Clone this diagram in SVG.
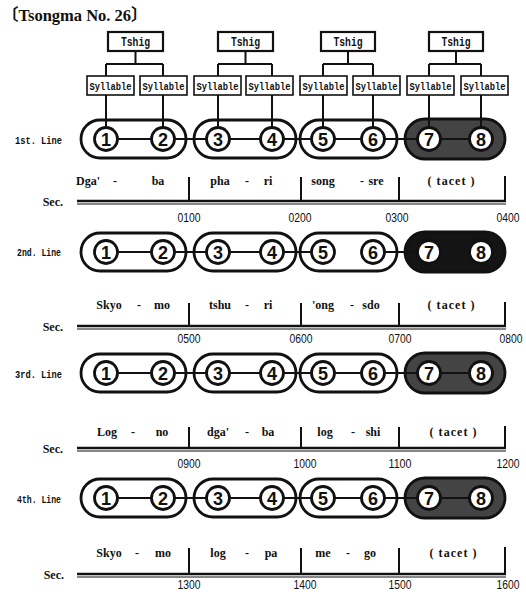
<svg xmlns="http://www.w3.org/2000/svg" width="526" height="592" viewBox="0 0 526 592">
<style>
.bg{fill:#fff}
.tshig{fill:#fff;stroke:#111;stroke-width:2.2}
.syl{fill:#fff;stroke:#111;stroke-width:1.6}
.st{fill:#fff;stroke:#111;stroke-width:2.8}
.dk{fill:#444;stroke:#111;stroke-width:2.8}
.blk{fill:#141414;stroke:#111;stroke-width:2.8}
.c{fill:#fff;stroke:#111;stroke-width:2.8}
.n{font-family:"Liberation Sans",sans-serif;font-weight:bold;font-size:18px;text-anchor:middle;fill:#111}
.mono{font-family:"Liberation Mono",monospace;font-weight:bold;fill:#111}
.tb{font-size:12px;text-anchor:middle}
.sb{font-size:11.5px;text-anchor:middle}
.ln{font-size:11px}
.w{font-family:"Liberation Serif",serif;font-weight:bold;font-size:12px;text-anchor:middle;fill:#111}
.sec{font-family:"Liberation Serif",serif;font-weight:bold;font-size:12px;text-anchor:end;fill:#111}
.lab{font-family:"Liberation Sans",sans-serif;font-size:12px;text-anchor:middle;fill:#111}
.ed{fill:none;stroke:#111;stroke-width:2}
.tl{fill:none;stroke:#111;stroke-width:2.6}
.tl2{fill:none;stroke:#111;stroke-width:1.2}
.tk{fill:none;stroke:#111;stroke-width:2}
</style>
<rect class="bg" x="0" y="0" width="526" height="592"/>
<text x="2" y="21" font-family="Liberation Serif, 'Noto Sans CJK JP', serif" font-weight="bold" font-size="16.5" fill="#111">〔Tsongma No. 26〕</text>

<!-- Tshig nodes -->
<g id="tshig1"><rect class="tshig" x="108" y="32" width="55" height="19"/><text class="mono tb" x="135.5" y="46" textLength="29" lengthAdjust="spacingAndGlyphs">Tshig</text></g>
<g id="tshig2"><rect class="tshig" x="218" y="32" width="55" height="19"/><text class="mono tb" x="245.5" y="46" textLength="29" lengthAdjust="spacingAndGlyphs">Tshig</text></g>
<g id="tshig3"><rect class="tshig" x="321" y="32" width="54" height="19"/><text class="mono tb" x="348" y="46" textLength="29" lengthAdjust="spacingAndGlyphs">Tshig</text></g>
<g id="tshig4"><rect class="tshig" x="429" y="32" width="54" height="19"/><text class="mono tb" x="456" y="46" textLength="29" lengthAdjust="spacingAndGlyphs">Tshig</text></g>

<!-- Syllable nodes -->
<g id="syl1"><rect class="syl" x="87" y="76" width="47" height="19"/><text class="mono sb" x="110.5" y="89.5" textLength="42" lengthAdjust="spacingAndGlyphs">Syllable</text></g>
<g id="syl2"><rect class="syl" x="140" y="76" width="47" height="19"/><text class="mono sb" x="163.5" y="89.5" textLength="42" lengthAdjust="spacingAndGlyphs">Syllable</text></g>
<g id="syl3"><rect class="syl" x="194" y="76" width="47" height="19"/><text class="mono sb" x="217.5" y="89.5" textLength="42" lengthAdjust="spacingAndGlyphs">Syllable</text></g>
<g id="syl4"><rect class="syl" x="246" y="76" width="47" height="19"/><text class="mono sb" x="269.5" y="89.5" textLength="42" lengthAdjust="spacingAndGlyphs">Syllable</text></g>
<g id="syl5"><rect class="syl" x="300" y="76" width="47" height="19"/><text class="mono sb" x="323.5" y="89.5" textLength="42" lengthAdjust="spacingAndGlyphs">Syllable</text></g>
<g id="syl6"><rect class="syl" x="353" y="76" width="47" height="19"/><text class="mono sb" x="376.5" y="89.5" textLength="42" lengthAdjust="spacingAndGlyphs">Syllable</text></g>
<g id="syl7"><rect class="syl" x="407" y="76" width="47" height="19"/><text class="mono sb" x="430.5" y="89.5" textLength="42" lengthAdjust="spacingAndGlyphs">Syllable</text></g>
<g id="syl8"><rect class="syl" x="461" y="76" width="47" height="19"/><text class="mono sb" x="484.5" y="89.5" textLength="42" lengthAdjust="spacingAndGlyphs">Syllable</text></g>

<!-- Line labels -->
<text class="mono ln" x="15" y="143.5" textLength="47" lengthAdjust="spacingAndGlyphs">1st. Line</text>
<text class="mono ln" x="17" y="255.5" textLength="44" lengthAdjust="spacingAndGlyphs">2nd. Line</text>
<text class="mono ln" x="15" y="377.5" textLength="47" lengthAdjust="spacingAndGlyphs">3rd. Line</text>
<text class="mono ln" x="17" y="502.5" textLength="44" lengthAdjust="spacingAndGlyphs">4th. Line</text>

<!-- Line 1 -->
<g id="l1-pair1"><rect class="st" x="81" y="120" width="105" height="38" rx="19"/><circle class="c" cx="106" cy="139" r="11.5"/><text class="n" x="106" y="145.5">1</text><circle class="c" cx="163" cy="139" r="11.5"/><text class="n" x="163" y="145.5">2</text></g>
<g id="l1-pair2"><rect class="st" x="194" y="120" width="102" height="38" rx="19"/><circle class="c" cx="218" cy="139" r="11.5"/><text class="n" x="218" y="145.5">3</text><circle class="c" cx="272" cy="139" r="11.5"/><text class="n" x="272" y="145.5">4</text></g>
<g id="l1-pair3"><rect class="st" x="300" y="120" width="97" height="38" rx="19"/><circle class="c" cx="323" cy="139" r="11.5"/><text class="n" x="323" y="145.5">5</text><circle class="c" cx="373" cy="139" r="11.5"/><text class="n" x="373" y="145.5">6</text></g>
<g id="l1-pair4"><rect class="dk" x="405" y="119" width="100" height="40" rx="20"/><circle class="c" cx="429" cy="139" r="11.5"/><text class="n" x="429" y="145.5">7</text><circle class="c" cx="481" cy="139" r="11.5"/><text class="n" x="481" y="145.5">8</text></g>

<!-- Line 2 -->
<g id="l2-pair1"><rect class="st" x="81" y="233" width="105" height="38" rx="19"/><circle class="c" cx="106" cy="252" r="11.5"/><text class="n" x="106" y="258.5">1</text><circle class="c" cx="163" cy="252" r="11.5"/><text class="n" x="163" y="258.5">2</text></g>
<g id="l2-pair2"><rect class="st" x="194" y="233" width="102" height="38" rx="19"/><circle class="c" cx="218" cy="252" r="11.5"/><text class="n" x="218" y="258.5">3</text><circle class="c" cx="272" cy="252" r="11.5"/><text class="n" x="272" y="258.5">4</text></g>
<g id="l2-pair3"><rect class="st" x="300" y="233" width="97" height="38" rx="19"/><circle class="c" cx="323" cy="252" r="11.5"/><text class="n" x="323" y="258.5">5</text><circle class="c" cx="373" cy="252" r="11.5"/><text class="n" x="373" y="258.5">6</text></g>
<g id="l2-pair4"><rect class="blk" x="405" y="232" width="100" height="40" rx="20"/><circle class="c" cx="429" cy="252" r="11.5"/><text class="n" x="429" y="258.5">7</text><circle class="c" cx="481" cy="252" r="11.5"/><text class="n" x="481" y="258.5">8</text></g>

<!-- Line 3 -->
<g id="l3-pair1"><rect class="st" x="81" y="354" width="105" height="38" rx="19"/><circle class="c" cx="106" cy="373" r="11.5"/><text class="n" x="106" y="379.5">1</text><circle class="c" cx="163" cy="373" r="11.5"/><text class="n" x="163" y="379.5">2</text></g>
<g id="l3-pair2"><rect class="st" x="194" y="354" width="102" height="38" rx="19"/><circle class="c" cx="218" cy="373" r="11.5"/><text class="n" x="218" y="379.5">3</text><circle class="c" cx="272" cy="373" r="11.5"/><text class="n" x="272" y="379.5">4</text></g>
<g id="l3-pair3"><rect class="st" x="300" y="354" width="97" height="38" rx="19"/><circle class="c" cx="323" cy="373" r="11.5"/><text class="n" x="323" y="379.5">5</text><circle class="c" cx="373" cy="373" r="11.5"/><text class="n" x="373" y="379.5">6</text></g>
<g id="l3-pair4"><rect class="dk" x="405" y="353" width="100" height="40" rx="20"/><circle class="c" cx="429" cy="373" r="11.5"/><text class="n" x="429" y="379.5">7</text><circle class="c" cx="481" cy="373" r="11.5"/><text class="n" x="481" y="379.5">8</text></g>

<!-- Line 4 -->
<g id="l4-pair1"><rect class="st" x="81" y="479" width="105" height="38" rx="19"/><circle class="c" cx="106" cy="498" r="11.5"/><text class="n" x="106" y="504.5">1</text><circle class="c" cx="163" cy="498" r="11.5"/><text class="n" x="163" y="504.5">2</text></g>
<g id="l4-pair2"><rect class="st" x="194" y="479" width="102" height="38" rx="19"/><circle class="c" cx="218" cy="498" r="11.5"/><text class="n" x="218" y="504.5">3</text><circle class="c" cx="272" cy="498" r="11.5"/><text class="n" x="272" y="504.5">4</text></g>
<g id="l4-pair3"><rect class="st" x="300" y="479" width="97" height="38" rx="19"/><circle class="c" cx="323" cy="498" r="11.5"/><text class="n" x="323" y="504.5">5</text><circle class="c" cx="373" cy="498" r="11.5"/><text class="n" x="373" y="504.5">6</text></g>
<g id="l4-pair4"><rect class="dk" x="405" y="478" width="100" height="40" rx="20"/><circle class="c" cx="429" cy="498" r="11.5"/><text class="n" x="429" y="504.5">7</text><circle class="c" cx="481" cy="498" r="11.5"/><text class="n" x="481" y="504.5">8</text></g>

<!-- Connectors -->
<g id="connectors" class="ed">
<path d="M135.5 51V64M106 64H163M106 64V76M163 64V76"/>
<path d="M245.5 51V64M218 64H272M218 64V76M272 64V76"/>
<path d="M348 51V64M323 64H373M323 64V76M373 64V76"/>
<path d="M456 51V64M429 64H481M429 64V76M481 64V76"/>
<path d="M106 95V127.5M163 95V127.5M218 95V127.5M272 95V127.5M323 95V127.5M373 95V127.5M429 95V127.5M481 95V127.5"/>
<path d="M118 139H151M175 139H206M230 139H260M284 139H311M335 139H361M385 139H417M441 139H469"/>
<path d="M118 252H151M175 252H206M230 252H260M284 252H311M385 252H417"/>
<path d="M118 373H151M175 373H206M230 373H260M284 373H311M335 373H361M385 373H417M441 373H469"/>
<path d="M118 498H151M175 498H206M230 498H260M284 498H311M335 498H361M385 498H417M441 498H469"/>
</g>

<!-- Timelines -->
<g id="timeline1">
<path class="tl" d="M77 201H506"/><path class="tl2" d="M77 204H506"/>
<path class="tk" d="M189 177V201M301 177V201M399 177V201M505 176V201"/>
<text class="sec" x="63" y="205.5">Sec.</text>
<text class="w" x="88" y="185">Dga'</text><text class="w" x="115" y="185">-</text><text class="w" x="158" y="185">ba</text>
<text class="w" x="220" y="185">pha</text><text class="w" x="247" y="185">-</text><text class="w" x="268" y="185">ri</text>
<text class="w" x="323" y="185">song</text><text class="w" x="362" y="185">-</text><text class="w" x="376" y="185">sre</text>
<text class="w" x="451" y="185" textLength="47">( tacet )</text>
<text class="lab" x="189" y="221.5" textLength="23" lengthAdjust="spacingAndGlyphs">0100</text><text class="lab" x="300" y="221.5" textLength="23" lengthAdjust="spacingAndGlyphs">0200</text><text class="lab" x="397" y="221.5" textLength="23" lengthAdjust="spacingAndGlyphs">0300</text><text class="lab" x="508" y="221.5" textLength="23" lengthAdjust="spacingAndGlyphs">0400</text>
</g>
<g id="timeline2">
<path class="tl" d="M77 326H506"/><path class="tl2" d="M77 329H506"/>
<path class="tk" d="M189 303V326M301 303V326M399 303V326M505 302V326"/>
<text class="sec" x="63" y="330.5">Sec.</text>
<text class="w" x="109" y="309">Skyo</text><text class="w" x="139" y="309">-</text><text class="w" x="162" y="309">mo</text>
<text class="w" x="220" y="309">tshu</text><text class="w" x="247" y="309">-</text><text class="w" x="268" y="309">ri</text>
<text class="w" x="323" y="309">'ong</text><text class="w" x="352" y="309">-</text><text class="w" x="371" y="309">sdo</text>
<text class="w" x="451" y="309" textLength="47">( tacet )</text>
<text class="lab" x="189" y="342.5" textLength="23" lengthAdjust="spacingAndGlyphs">0500</text><text class="lab" x="301" y="342.5" textLength="23" lengthAdjust="spacingAndGlyphs">0600</text><text class="lab" x="400" y="342.5" textLength="23" lengthAdjust="spacingAndGlyphs">0700</text><text class="lab" x="511" y="342.5" textLength="23" lengthAdjust="spacingAndGlyphs">0800</text>
</g>
<g id="timeline3">
<path class="tl" d="M77 448H506"/><path class="tl2" d="M77 451H506"/>
<path class="tk" d="M189 427V448M301 427V448M399 427V448M505 426V448"/>
<text class="sec" x="63" y="452.5">Sec.</text>
<text class="w" x="107" y="436">Log</text><text class="w" x="133" y="436">-</text><text class="w" x="162" y="436">no</text>
<text class="w" x="218" y="436">dga'</text><text class="w" x="247" y="436">-</text><text class="w" x="268" y="436">ba</text>
<text class="w" x="325" y="436">log</text><text class="w" x="353" y="436">-</text><text class="w" x="373" y="436">shi</text>
<text class="w" x="453" y="436" textLength="47">( tacet )</text>
<text class="lab" x="189" y="467.5" textLength="23" lengthAdjust="spacingAndGlyphs">0900</text><text class="lab" x="305" y="467.5" textLength="23" lengthAdjust="spacingAndGlyphs">1000</text><text class="lab" x="400" y="467.5" textLength="23" lengthAdjust="spacingAndGlyphs">1100</text><text class="lab" x="508" y="467.5" textLength="23" lengthAdjust="spacingAndGlyphs">1200</text>
</g>
<g id="timeline4">
<path class="tl" d="M77 574H506"/><path class="tl2" d="M77 577H506"/>
<path class="tk" d="M189 548V574M301 548V574M399 548V574M505 547V574"/>
<text class="sec" x="64" y="578.5">Sec.</text>
<text class="w" x="109" y="557">Skyo</text><text class="w" x="137" y="557">-</text><text class="w" x="163" y="557">mo</text>
<text class="w" x="218" y="557">log</text><text class="w" x="247" y="557">-</text><text class="w" x="271" y="557">pa</text>
<text class="w" x="323" y="557">me</text><text class="w" x="348" y="557">-</text><text class="w" x="370" y="557">go</text>
<text class="w" x="453" y="557" textLength="47">( tacet )</text>
<text class="lab" x="189" y="589" font-size="11.5" textLength="23" lengthAdjust="spacingAndGlyphs">1300</text><text class="lab" x="305" y="589" font-size="11.5" textLength="23" lengthAdjust="spacingAndGlyphs">1400</text><text class="lab" x="400" y="589" font-size="11.5" textLength="23" lengthAdjust="spacingAndGlyphs">1500</text><text class="lab" x="508" y="589" font-size="11.5" textLength="23" lengthAdjust="spacingAndGlyphs">1600</text>
</g>
</svg>
